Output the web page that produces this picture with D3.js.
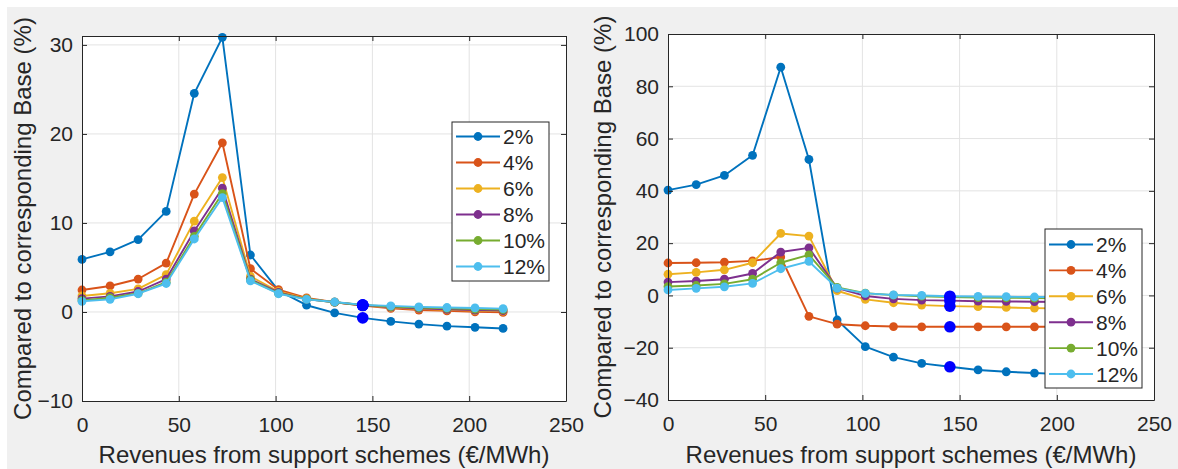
<!DOCTYPE html>
<html>
<head>
<meta charset="utf-8">
<script src="https://cdn.jsdelivr.net/npm/d3@7"></script>
<style>
  html, body { margin: 0; padding: 0; background: #ffffff; }
  svg { display: block; }
  text { font-family: "Liberation Sans", Arial, Helvetica, sans-serif; fill: #262626; }
</style>
</head>
<body>
<svg id="fig" width="1178" height="469"></svg>
<script>
// Support-scheme revenue levels (€/MWh)
const revenues = [0, 14.5, 29, 43.5, 58, 72.5, 87, 101.5, 116, 130.5, 145, 159.5, 174, 188.5, 203, 217.5];
const seriesNames = ["2%", "4%", "6%", "8%", "10%", "12%"];
const seriesColors = ["#0072BD", "#D95319", "#EDB120", "#7E2F8E", "#77AC30", "#4DBEEE"];
const highlightIndex = 10;

// Left panel: change compared to corresponding base (%)
const left2  = [5.9, 6.76, 8.13, 11.3, 24.56, 30.85, 6.4, 2.4, 0.76, -0.1, -0.66, -1.06, -1.36, -1.59, -1.72, -1.85];
const left4  = [2.47, 2.92, 3.7, 5.49, 13.24, 19.0, 4.86, 2.5, 1.58, 1.1, 0.72, 0.4, 0.22, 0.12, 0.02, -0.05];
const left6  = [1.8, 2.1, 2.6, 4.2, 10.2, 15.1, 4.0, 2.3, 1.5, 1.1, 0.75, 0.5, 0.35, 0.25, 0.15, 0.1];
const left8  = [1.5, 1.75, 2.3, 3.7, 9.1, 13.9, 3.7, 2.2, 1.45, 1.1, 0.75, 0.55, 0.4, 0.3, 0.22, 0.15];
const left10 = [1.3, 1.6, 2.1, 3.35, 8.5, 13.3, 3.6, 2.1, 1.45, 1.1, 0.78, 0.6, 0.5, 0.4, 0.33, 0.27];
const left12 = [1.2, 1.42, 2.05, 3.2, 8.2, 12.85, 3.5, 2.05, 1.42, 1.12, 0.8, 0.68, 0.57, 0.5, 0.45, 0.38];

// Right panel: change compared to corresponding base (%)
const right2  = [40.3, 42.4, 45.9, 53.6, 87.3, 52.0, -9.4, -19.6, -23.6, -26.0, -27.3, -28.5, -29.2, -29.7, -30.1, -30.4];
const right4  = [12.4, 12.5, 12.7, 13.2, 14.7, -8.0, -11.0, -11.6, -11.9, -12.0, -12.0, -12.0, -12.0, -12.0, -12.0, -12.0];
const right6  = [8.1, 8.8, 9.8, 12.5, 23.7, 22.7, 1.8, -1.5, -2.8, -3.7, -4.1, -4.3, -4.6, -4.85, -5.0, -5.1];
const right8  = [5.1, 5.5, 6.2, 8.4, 16.6, 18.2, 2.8, -0.2, -1.3, -1.8, -2.0, -2.2, -2.3, -2.4, -2.5, -2.5];
const right10 = [3.4, 3.8, 4.4, 6.2, 12.5, 15.5, 3.1, 0.9, 0.1, -0.3, -0.6, -0.8, -0.9, -1.0, -1.1, -1.1];
const right12 = [2.1, 2.7, 3.3, 4.6, 10.2, 13.0, 2.8, 0.8, 0.2, 0.0, -0.3, -0.4, -0.5, -0.6, -0.6, -0.7];

// Tick values
const xTicks = [0, 50, 100, 150, 200, 250];
const leftYTicks = [-10, 0, 10, 20, 30];
const rightYTicks = [-40, -20, 0, 20, 40, 60, 80, 100];

const xLabel = "Revenues from support schemes (€/MWh)";
const yLabel = "Compared to corresponding Base (%)";

const svg = d3.select("#fig");
svg.append("rect").attr("x", 7).attr("y", 7).attr("width", 1171).attr("height", 462).attr("fill", "#f0f0f0");

const axisColor = "#262626";
const gridColor = "#e3e3e3";
const tickFont = 21;
const labelFont = 24;
const legendFont = 21;

function drawPanel(cfg) {
  const { left, top, right, bottom, yDomain, yTicks, series, legend, yLabelX } = cfg;
  const w = right - left, h = bottom - top;
  const g = svg.append("g").attr("transform", `translate(${left},${top})`);
  const x = d3.scaleLinear().domain([0, 250]).range([0, w]);
  const y = d3.scaleLinear().domain(yDomain).range([h, 0]);

  g.append("rect").attr("width", w).attr("height", h).attr("fill", "#ffffff");

  // grid
  const grid = g.append("g");
  grid.selectAll("line.gx").data(xTicks.filter(t => t > 0 && t < 250)).join("line")
    .attr("x1", d => x(d)).attr("x2", d => x(d)).attr("y1", 0).attr("y2", h)
    .attr("stroke", gridColor).attr("stroke-width", 1);
  grid.selectAll("line.gy").data(yTicks.filter(t => t > yDomain[0] && t < yDomain[1])).join("line")
    .attr("y1", d => y(d)).attr("y2", d => y(d)).attr("x1", 0).attr("x2", w)
    .attr("stroke", gridColor).attr("stroke-width", 1);

  // series
  const line = d3.line().x((d, i) => x(revenues[i])).y(d => y(d));
  series.forEach((vals, k) => {
    g.append("path").datum(vals).attr("d", line)
      .attr("fill", "none").attr("stroke", seriesColors[k]).attr("stroke-width", 1.9)
      .attr("stroke-linejoin", "round");
    g.selectAll(null).data(vals).join("circle")
      .attr("cx", (d, i) => x(revenues[i])).attr("cy", d => y(d)).attr("r", 4.4)
      .attr("fill", seriesColors[k]);
  });
  // highlighted points
  series.forEach(vals => {
    g.append("circle").attr("cx", x(revenues[highlightIndex])).attr("cy", y(vals[highlightIndex]))
      .attr("r", 5.8).attr("fill", "#0000ff");
  });

  // axes (ticks pointing inward, box on)
  const styleAxis = sel => {
    sel.select(".domain").attr("stroke", axisColor).attr("stroke-width", 1);
    sel.selectAll(".tick line").attr("stroke", axisColor).attr("stroke-width", 1);
    sel.selectAll("text").attr("font-size", tickFont).attr("fill", axisColor)
      .style("font-family", '"Liberation Sans", Arial, sans-serif');
  };
  g.append("g").attr("transform", `translate(0,${h})`)
    .call(d3.axisBottom(x).tickValues(xTicks).tickSize(-5).tickSizeOuter(0).tickPadding(16).tickFormat(d3.format("d")))
    .call(styleAxis);
  g.append("g")
    .call(d3.axisTop(x).tickValues(xTicks).tickSize(-5).tickSizeOuter(0).tickFormat(""))
    .call(styleAxis);
  g.append("g")
    .call(d3.axisLeft(y).tickValues(yTicks).tickSize(-5).tickSizeOuter(0).tickPadding(9).tickFormat(d3.format("d")))
    .call(styleAxis);
  g.append("g").attr("transform", `translate(${w},0)`)
    .call(d3.axisRight(y).tickValues(yTicks).tickSize(-5).tickSizeOuter(0).tickFormat(""))
    .call(styleAxis);

  // axis labels
  svg.append("text").attr("x", left + w / 2).attr("y", 463).attr("text-anchor", "middle")
    .attr("font-size", labelFont).text(xLabel);
  svg.append("text").attr("transform", `translate(${yLabelX},${top + h / 2}) rotate(-90)`)
    .attr("text-anchor", "middle").attr("font-size", labelFont).text(yLabel);

  // legend
  const lg = svg.append("g").attr("transform", `translate(${legend.x},${legend.y})`);
  lg.append("rect").attr("width", legend.w).attr("height", legend.h)
    .attr("fill", "#ffffff").attr("stroke", axisColor).attr("stroke-width", 1);
  seriesNames.forEach((name, k) => {
    const cy = legend.first + k * legend.step;
    lg.append("line").attr("x1", 4).attr("x2", 48).attr("y1", cy).attr("y2", cy)
      .attr("stroke", seriesColors[k]).attr("stroke-width", 1.9);
    lg.append("circle").attr("cx", 26).attr("cy", cy).attr("r", 4.4).attr("fill", seriesColors[k]);
    lg.append("text").attr("x", 51).attr("y", cy).attr("dy", "0.36em")
      .attr("font-size", legendFont).attr("fill", "#000000").text(name);
  });
}

drawPanel({
  left: 82, top: 36, right: 566, bottom: 401,
  yDomain: [-10, 31], yTicks: leftYTicks,
  series: [left2, left4, left6, left8, left10, left12],
  legend: { x: 452, y: 122, w: 97, h: 159, first: 14.5, step: 26 },
  yLabelX: 31
});

drawPanel({
  left: 668, top: 34, right: 1154, bottom: 400,
  yDomain: [-40, 100], yTicks: rightYTicks,
  series: [right2, right4, right6, right8, right10, right12],
  legend: { x: 1045, y: 229, w: 97, h: 159, first: 15.5, step: 25.9 },
  yLabelX: 611
});
</script>
</body>
</html>
